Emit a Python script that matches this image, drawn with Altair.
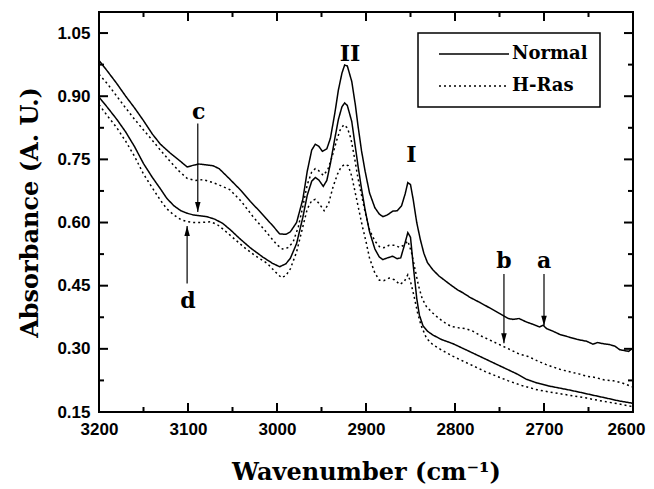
import altair as alt
import pandas as pd

# ---------------- data ----------------
# curve a : Normal (upper solid)
a_wn = [3200, 3190, 3180, 3170, 3160, 3150, 3140, 3131, 3120, 3110, 3101, 3094, 3088, 3080, 3072, 3065,
        3053, 3040, 3030, 3020, 3011, 3003, 2997, 2990, 2985, 2978, 2971, 2966, 2961, 2957, 2953, 2949,
        2944, 2940, 2935, 2931, 2927, 2924, 2921, 2916, 2912, 2909, 2905, 2901, 2896, 2890, 2885, 2881,
        2876, 2870, 2865, 2860, 2856, 2853, 2850, 2847, 2843, 2839, 2835, 2831, 2825, 2818, 2813, 2805,
        2797, 2791, 2783, 2772, 2760, 2749, 2740, 2735, 2728, 2720, 2712, 2705, 2701, 2697, 2690, 2682,
        2672, 2662, 2652, 2645, 2640, 2633, 2626, 2620, 2615, 2610, 2605, 2600]
a_abs = [0.985, 0.958, 0.930, 0.900, 0.872, 0.842, 0.810, 0.786, 0.765, 0.748, 0.732, 0.736, 0.739, 0.737, 0.735, 0.728,
         0.703, 0.675, 0.650, 0.628, 0.607, 0.588, 0.573, 0.572, 0.578, 0.600, 0.655, 0.722, 0.772, 0.786, 0.781, 0.769,
         0.775, 0.800, 0.860, 0.915, 0.955, 0.974, 0.972, 0.935, 0.880, 0.830, 0.770, 0.722, 0.670, 0.635, 0.620, 0.614,
         0.618, 0.627, 0.628, 0.640, 0.668, 0.695, 0.690, 0.655, 0.600, 0.560, 0.527, 0.505, 0.488, 0.473, 0.465, 0.452,
         0.440, 0.433, 0.422, 0.410, 0.396, 0.383, 0.372, 0.370, 0.372, 0.364, 0.358, 0.352, 0.356, 0.348, 0.342, 0.334,
         0.328, 0.322, 0.318, 0.311, 0.315, 0.312, 0.310, 0.306, 0.298, 0.296, 0.294, 0.302]

# curve b : H-Ras (upper dotted)
b_wn = [3200, 3190, 3180, 3170, 3160, 3150, 3140, 3131, 3120, 3110, 3101, 3092, 3083, 3075, 3066, 3053,
        3040, 3027, 3015, 3008, 3000, 2994, 2988, 2982, 2976, 2971, 2966, 2961, 2957, 2953, 2948, 2943,
        2938, 2933, 2929, 2925, 2921, 2917, 2913, 2909, 2905, 2901, 2896, 2890, 2885, 2880, 2874, 2868,
        2862, 2857, 2853, 2849, 2845, 2841, 2837, 2832, 2825, 2818, 2810, 2804, 2796, 2788, 2780, 2770,
        2758, 2745, 2736, 2727, 2718, 2708, 2698, 2690, 2680, 2670, 2660, 2652, 2642, 2632, 2622, 2612, 2601]
b_abs = [0.952, 0.928, 0.900, 0.872, 0.845, 0.820, 0.795, 0.772, 0.745, 0.722, 0.705, 0.700, 0.702, 0.697, 0.690, 0.678,
         0.650, 0.614, 0.585, 0.567, 0.547, 0.537, 0.540, 0.553, 0.590, 0.638, 0.690, 0.720, 0.728, 0.723, 0.712, 0.725,
         0.757, 0.795, 0.820, 0.832, 0.825, 0.800, 0.755, 0.705, 0.665, 0.625, 0.582, 0.556, 0.543, 0.540, 0.546, 0.546,
         0.541, 0.547, 0.556, 0.530, 0.490, 0.450, 0.420, 0.400, 0.385, 0.372, 0.360, 0.353, 0.350, 0.348, 0.342, 0.330,
         0.318, 0.305, 0.296, 0.287, 0.282, 0.272, 0.263, 0.257, 0.250, 0.245, 0.240, 0.235, 0.232, 0.226, 0.224, 0.219, 0.210]

# curve c : Normal (lower solid)
c_wn = [3200, 3190, 3180, 3170, 3160, 3150, 3140, 3131, 3124, 3116, 3108, 3101, 3094, 3087, 3079, 3070,
        3061, 3052, 3042, 3030, 3016, 3005, 2997, 2990, 2985, 2978, 2971, 2966, 2961, 2957, 2953, 2948,
        2944, 2940, 2935, 2931, 2927, 2924, 2921, 2916, 2912, 2909, 2905, 2901, 2896, 2890, 2885, 2881,
        2876, 2870, 2865, 2861, 2857, 2853, 2850, 2847, 2843, 2840, 2836, 2831, 2825, 2815, 2802, 2790,
        2778, 2764, 2752, 2742, 2730, 2720, 2708, 2695, 2683, 2671, 2660, 2645, 2630, 2615, 2601]
c_abs = [0.898, 0.872, 0.845, 0.815, 0.780, 0.740, 0.707, 0.680, 0.658, 0.640, 0.628, 0.622, 0.618, 0.616, 0.614, 0.608,
         0.598, 0.582, 0.562, 0.540, 0.518, 0.503, 0.495, 0.502, 0.515, 0.550, 0.612, 0.665, 0.698, 0.707, 0.701, 0.686,
         0.700, 0.740, 0.800, 0.845, 0.875, 0.884, 0.878, 0.840, 0.780, 0.735, 0.680, 0.630, 0.578, 0.537, 0.518, 0.512,
         0.516, 0.520, 0.514, 0.516, 0.545, 0.576, 0.565, 0.500, 0.420, 0.380, 0.355, 0.342, 0.333, 0.322, 0.312, 0.300,
         0.288, 0.274, 0.262, 0.252, 0.240, 0.228, 0.219, 0.212, 0.207, 0.202, 0.197, 0.190, 0.183, 0.176, 0.171]

# curve d : H-Ras (lower dotted)
d_wn = [3200, 3190, 3180, 3170, 3160, 3150, 3140, 3131, 3124, 3116, 3108, 3101, 3093, 3085, 3075, 3067,
        3061, 3050, 3038, 3025, 3011, 3002, 2995, 2990, 2985, 2978, 2971, 2966, 2961, 2957, 2953, 2947,
        2942, 2937, 2932, 2928, 2924, 2920, 2916, 2912, 2908, 2904, 2900, 2896, 2890, 2885, 2880, 2874,
        2868, 2862, 2857, 2853, 2850, 2846, 2842, 2838, 2832, 2825, 2815, 2802, 2790, 2778, 2766, 2752,
        2740, 2725, 2708, 2690, 2672, 2652, 2635, 2618, 2601]
d_abs = [0.880, 0.852, 0.825, 0.793, 0.757, 0.715, 0.682, 0.653, 0.633, 0.618, 0.607, 0.602, 0.600, 0.600, 0.602, 0.595,
         0.585, 0.565, 0.543, 0.522, 0.503, 0.483, 0.469, 0.474, 0.490, 0.530, 0.590, 0.632, 0.652, 0.655, 0.646, 0.628,
         0.645, 0.685, 0.715, 0.732, 0.738, 0.735, 0.710, 0.670, 0.630, 0.590, 0.555, 0.515, 0.480, 0.463, 0.462, 0.468,
         0.464, 0.453, 0.460, 0.476, 0.460, 0.425, 0.385, 0.355, 0.325, 0.310, 0.297, 0.282, 0.270, 0.258, 0.246, 0.234,
         0.224, 0.213, 0.203, 0.196, 0.190, 0.183, 0.176, 0.170, 0.163]

samples = ["Normal", "H-Ras"]

# annotations
label_text = ["II", "I", "a", "b", "c", "d"]
label_wn = [2918, 2849, 2700, 2745, 3088, 3100]
label_abs = [0.983, 0.743, 0.493, 0.493, 0.845, 0.398]

arrow_wn = [2700, 2745, 3089, 3101]
arrow_from = [0.478, 0.478, 0.835, 0.455]
arrow_to = [0.355, 0.313, 0.625, 0.592]
arrow_dir = ["down", "down", "down", "up"]

# axis ticks
x_major = [3200, 3100, 3000, 2900, 2800, 2700, 2600]
x_minor = [3150, 3050, 2950, 2850, 2750, 2650]
y_major = [0.15, 0.30, 0.45, 0.60, 0.75, 0.90, 1.05]
y_minor = [0.225, 0.375, 0.525, 0.675, 0.825, 0.975]

# ---------------- tables ----------------
rows = []
for cid, sample, wn, ab in [("a", "Normal", a_wn, a_abs), ("b", "H-Ras", b_wn, b_abs),
                            ("c", "Normal", c_wn, c_abs), ("d", "H-Ras", d_wn, d_abs)]:
    for i, (w, v) in enumerate(zip(wn, ab)):
        rows.append({"curve": cid, "sample": sample, "wn": w, "abs": v, "order": i})
df = pd.DataFrame(rows)

df_lab = pd.DataFrame({"label": label_text, "wn": label_wn, "abs": label_abs})
df_arr = pd.DataFrame({"wn": arrow_wn, "y1": arrow_from, "y2": arrow_to, "dir": arrow_dir})
df_xmaj = pd.DataFrame({"v": x_major})
df_xmin = pd.DataFrame({"v": x_minor})
df_ymaj = pd.DataFrame({"v": y_major})
df_ymin = pd.DataFrame({"v": y_minor})

W, H = 534, 400
xs = alt.Scale(domain=[2600, 3200], reverse=True, nice=False, zero=False)
ys = alt.Scale(domain=[0.15, 1.10], nice=False, zero=False)
xaxis = alt.Axis(title="Wavenumber (cm⁻¹)", values=x_major, format="d", labelFlush=False,
                 labelPadding=9, titlePadding=23,
                 labelOffset={"condition": {"test": "datum.value == 2600", "value": -7}, "value": 0})
yaxis = alt.Axis(title="Absorbance (A. U.)", values=y_major, format=".2f", labelFlush=False,
                 labelPadding=9, titlePadding=14)


def X(f):
    return alt.X(f, type="quantitative", scale=xs, axis=xaxis)


def Y(f):
    return alt.Y(f, type="quantitative", scale=ys, axis=yaxis)


lines = alt.Chart(df).mark_line(color="black", strokeWidth=1.5).encode(
    x=X("wn"),
    y=Y("abs"),
    detail="curve:N",
    order="order:Q",
    strokeDash=alt.StrokeDash(
        "sample:N",
        scale=alt.Scale(domain=samples, range=[[1, 0], [2, 3]]),
        legend=alt.Legend(
            title=None, orient="none", legendX=319, legendY=21,
            symbolType="M0,0H14", symbolSize=100, symbolStrokeWidth=1.3,
            symbolStrokeColor="black", labelOffset=64,
            labelFont="DejaVu Serif", labelFontWeight="bold", labelFontSize=18,
            labelColor="black", padding=12, rowPadding=14, strokeColor="black",
        ),
    ),
)

xt_maj_b = alt.Chart(df_xmaj).mark_rule(color="black", strokeWidth=2).encode(
    x=X("v"), y=alt.value(H), y2=alt.value(H - 9))
xt_maj_t = alt.Chart(df_xmaj).mark_rule(color="black", strokeWidth=2).encode(
    x=X("v"), y=alt.value(0), y2=alt.value(9))
xt_min_b = alt.Chart(df_xmin).mark_rule(color="black", strokeWidth=2).encode(
    x=X("v"), y=alt.value(H), y2=alt.value(H - 5))
xt_min_t = alt.Chart(df_xmin).mark_rule(color="black", strokeWidth=2).encode(
    x=X("v"), y=alt.value(0), y2=alt.value(5))
yt_maj_l = alt.Chart(df_ymaj).mark_rule(color="black", strokeWidth=2).encode(
    y=Y("v"), x=alt.value(0), x2=alt.value(9))
yt_maj_r = alt.Chart(df_ymaj).mark_rule(color="black", strokeWidth=2).encode(
    y=Y("v"), x=alt.value(W), x2=alt.value(W - 9))
yt_min_l = alt.Chart(df_ymin).mark_rule(color="black", strokeWidth=2).encode(
    y=Y("v"), x=alt.value(0), x2=alt.value(5))
yt_min_r = alt.Chart(df_ymin).mark_rule(color="black", strokeWidth=2).encode(
    y=Y("v"), x=alt.value(W), x2=alt.value(W - 5))

labels = alt.Chart(df_lab).mark_text(
    font="DejaVu Serif", fontWeight="bold", fontSize=22, baseline="alphabetic",
    align="center", color="black").encode(x=X("wn"), y=Y("abs"), text="label:N")

arrows = alt.Chart(df_arr).mark_rule(color="black", strokeWidth=1.2).encode(
    x=X("wn"), y=Y("y1"), y2="y2")
heads_down = alt.Chart(df_arr).transform_filter(alt.datum.dir == "down").mark_point(
    shape="M0,0L-0.55,-2L0.55,-2Z", filled=True, size=100, color="black", opacity=1).encode(
    x=X("wn"), y=Y("y2"))
heads_up = alt.Chart(df_arr).transform_filter(alt.datum.dir == "up").mark_point(
    shape="M0,0L-0.55,2L0.55,2Z", filled=True, size=100, color="black", opacity=1).encode(
    x=X("wn"), y=Y("y2"))

chart = alt.layer(
    lines, xt_maj_b, xt_maj_t, xt_min_b, xt_min_t, yt_maj_l, yt_maj_r, yt_min_l, yt_min_r,
    arrows, heads_down, heads_up, labels,
).properties(
    width=W, height=H,
    padding={"left": 91, "top": 4, "right": 13, "bottom": 76},
    autosize=alt.AutoSizeParams(type="none"),
    background="white",
).configure_view(
    stroke="black", strokeWidth=2
).configure_axis(
    domain=False, ticks=False, grid=False,
    labelFont="Liberation Sans", labelFontWeight="bold", labelFontSize=17, labelColor="black",
    titleFont="DejaVu Serif", titleFontWeight="bold", titleFontSize=24, titleColor="black",
).configure_legend(
    strokeWidth=1.5
)

chart.save("out.html", embed_options={"renderer": "svg", "actions": False})
